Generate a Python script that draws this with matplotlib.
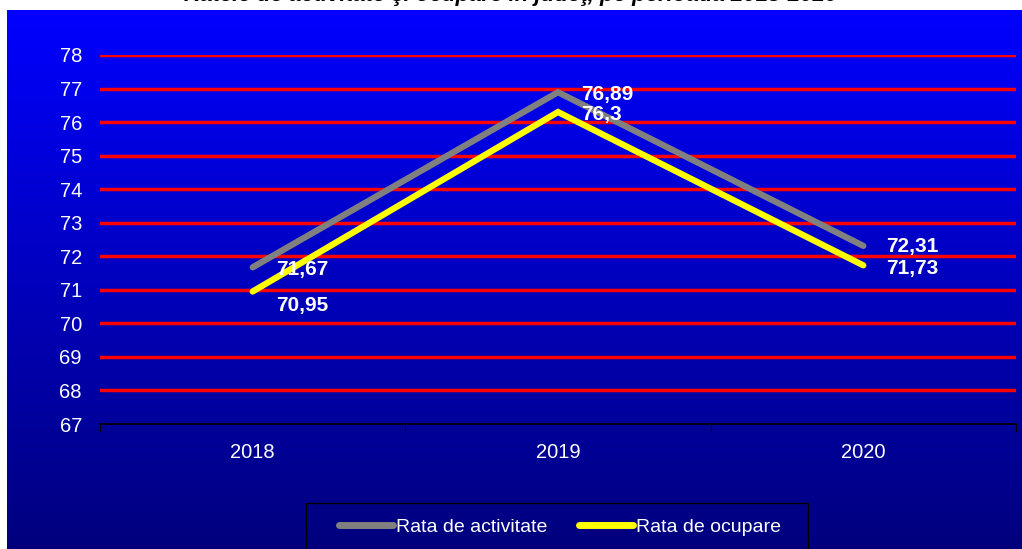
import numpy as np
import matplotlib.pyplot as plt
from matplotlib.lines import Line2D
from matplotlib.patches import Rectangle

plt.rcParams['font.family'] = ['Liberation Sans', 'DejaVu Sans']

# date
ani = ['2018', '2019', '2020']
rata_activitate = [71.67, 76.89, 72.31]
rata_ocupare = [70.95, 76.3, 71.73]
titlu = 'Ratele de activitate şi ocupare în judeţ, pe perioada 2018-2020'

W, H = 1022, 549
fig = plt.figure(figsize=(W / 100, H / 100), dpi=100)

# fundal cu gradient albastru
bg = fig.add_axes([7 / W, 0, 1 - 7 / W, (H - 10) / H])
bg.axis('off')
grad = np.linspace(1.0, 0.0, 256)
img = np.zeros((256, 1, 3))
img[:, 0, 2] = (125 + 130 * grad) / 255
bg.imshow(img, aspect='auto', extent=[0, 1, 0, 1], interpolation='bilinear')
bg.set_xlim(0, 1)
bg.set_ylim(0, 1)

# titlul (taiat sus, ca in original)
fig.text(0.5, 1 - 0.5 / H, titlu, ha='center', va='baseline',
         fontsize=16, fontweight='bold', fontstyle='italic', color='black')

ax = fig.add_axes([100 / W, 1 - 424 / H, (1016 - 100) / W, (424 - 55) / H])
ax.patch.set_alpha(0)
x = np.arange(len(ani))

ax.set_ylim(67, 78)
ax.set_xlim(-0.5, 2.5)
for v in range(68, 79):
    ax.axhline(v, color='#ff0000', lw=2.5, zorder=1)

ax.plot(x, rata_activitate, color='#808080', lw=4.5, solid_capstyle='round',
        solid_joinstyle='miter', zorder=3, label='Rata de activitate')
ax.plot(x, rata_ocupare, color='#ffff00', lw=4.5, solid_capstyle='round',
        solid_joinstyle='miter', zorder=4, label='Rata de ocupare')

offs_act = [-2, -2, -1]
offs_oc = [-14, -2, -3]
for i in range(len(ani)):
    ax.annotate(f'{rata_activitate[i]:g}'.replace('.', ','), (x[i], rata_activitate[i]),
                xytext=(23, offs_act[i]), textcoords='offset pixels',
                ha='left', va='center', color='white', fontsize=15,
                fontweight='bold', zorder=5)
    ax.annotate(f'{rata_ocupare[i]:g}'.replace('.', ','), (x[i], rata_ocupare[i]),
                xytext=(23, offs_oc[i]), textcoords='offset pixels',
                ha='left', va='center', color='white', fontsize=15,
                fontweight='bold', zorder=5)

for s in ['top', 'right', 'left']:
    ax.spines[s].set_visible(False)
ax.spines['bottom'].set_color('black')
ax.spines['bottom'].set_linewidth(1.2)
ax.spines['bottom'].set_zorder(6)

ax.set_yticks(range(67, 79))
ax.tick_params(axis='y', length=0, pad=13, labelcolor='white', labelsize=14.5)
ax.set_xticks([-0.5, 0.5, 1.5, 2.5])
ax.set_xticklabels([])
ax.tick_params(axis='x', which='major', length=6, direction='out', color='black')
ax.set_xticks(x, minor=True)
ax.set_xticklabels(ani, minor=True)
ax.tick_params(axis='x', which='minor', length=0, pad=14, labelcolor='white', labelsize=14.5)

# legenda: chenar desenat separat
fig.patches.append(Rectangle((306 / W, -0.05), (808 - 306) / W, 0.05 + 1 - 503 / H,
                             transform=fig.transFigure, facecolor='none',
                             edgecolor='black', lw=1, zorder=2))
handles = [Line2D([], [], color='#808080', lw=5, solid_capstyle='round'),
           Line2D([], [], color='#ffff00', lw=5, solid_capstyle='round')]
leg = fig.legend(handles, ['Rata de activitate', 'Rata de ocupare'],
                 loc='center left', bbox_to_anchor=(339 / W, 1 - 527 / H),
                 ncol=2, frameon=False, fontsize=14, handlelength=2.8,
                 handletextpad=0.15, columnspacing=1.6, borderpad=0,
                 borderaxespad=0, labelcolor='white')

fig.savefig('out.png', dpi=100)
